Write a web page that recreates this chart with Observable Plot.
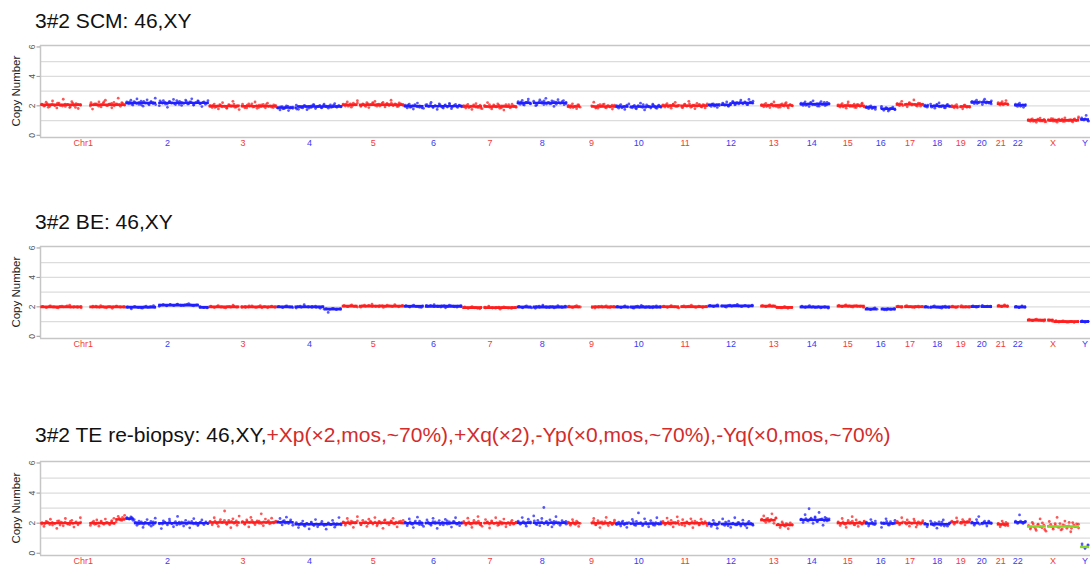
<!DOCTYPE html>
<html><head><meta charset="utf-8">
<script src="https://cdn.jsdelivr.net/npm/d3@7"></script>
<script src="https://cdn.jsdelivr.net/npm/@observablehq/plot@0.6"></script>
<style>
body{margin:0;background:#fff;font-family:"Liberation Sans",Arial,sans-serif;}
#wrap{position:relative;width:1090px;height:569px;overflow:hidden;background:#fff;}
.title{position:absolute;left:35px;font-size:21px;line-height:20px;white-space:nowrap;color:#111;}
.title .ab{color:#d42b2b;}
.panel{position:absolute;left:0;}
</style></head><body><div id="wrap"></div>
<script>
// ---------- genome structure ----------
const chrNames = ["1","2","3","4","5","6","7","8","9","10","11","12","13","14","15","16","17","18","19","20","21","22","X","Y"];
const chrLabels = ["Chr1","2","3","4","5","6","7","8","9","10","11","12","13","14","15","16","17","18","19","20","21","22","X","Y"];
const chrLengths = [249.3,243.2,198.0,191.2,180.9,171.1,159.1,146.4,141.2,135.5,135.0,133.9,115.2,107.3,102.5,90.4,81.2,78.1,59.1,63.0,48.1,51.3,155.3,59.4];
// covered (mappable) regions per chromosome, Mb
const chrRegions = [
  [[0.8,121],[144,249]],[[0,90],[96,243]],[[0,90],[94,198]],[[0,49],[53,191]],
  [[0,46],[50,181]],[[0,58],[62,171]],[[0,58],[62,159]],[[0,43],[47,146]],
  [[0,39],[71,141]],[[0,39],[43,135.5]],[[0,51],[55,135]],[[0,34],[38,133.8]],
  [[19.5,115]],[[19.5,107]],[[20.5,102.4]],[[0,35],[46.5,90.3]],
  [[0,22],[25,81]],[[0,15],[19,78]],[[0,24],[28,59]],[[0,26],[30,63]],
  [[14,48]],[[16.5,51.2]],[[2.7,58],[62,155]],[[2.7,28.8]]
];
const yTicks = [0,2,4,6];
const gridLines = [1,2,3,4,5];

// ---------- panel titles ----------
const titles = [
  {main:"3#2 SCM: 46,XY", ab:""},
  {main:"3#2 BE: 46,XY", ab:""},
  {main:"3#2 TE re-biopsy: 46,XY,", ab:"+Xp(×2,mos,~70%),+Xq(×2),-Yp(×0,mos,~70%),-Yq(×0,mos,~70%)"}
];

// ---------- bin copy numbers (x100), one string per chromosome, bins in genome order ----------
// two interleaved bin sets per sample (A: wider scatter, B: core)
const scmPoints = [
"212 198 225 190 207 233 201 186 219 204 245 196 210 188 228 203 215 182 208 199 178 214 206 226 193 219 238 201 212 187 223 209 252 197 216 205",
"226 214 238 205 221 247 210 232 198 219 241 207 228 215 252 201 224 236 212 190 229 218 244 209 223 231 203 217 239 212 226 248 206 220 233 214 195 227 219 235",
"203 188 212 194 179 205 221 196 184 209 199 231 190 202 175 211 197 186 214 201 192 226 183 204 195 210 187 218 200 191 207 194",
"185 172 194 181 199 168 190 183 205 177 192 186 201 174 196 189 208 182 195 203 187 211 198 184 206 193 215 190 202 197",
"212 199 226 204 191 218 207 235 196 213 202 221 188 209 216 230 198 211 205 224 193 217 209 238 201 214 195 220 208 203",
"205 186 211 193 178 202 219 190 197 183 208 195 224 188 201 176 213 196 185 206 192 217 181 199 210 189 203 194",
"201 185 210 192 176 199 215 188 204 181 197 222 190 179 206 194 213 183 200 171 208 195 187 211 198 190",
"228 211 237 205 224 246 215 232 201 219 240 226 209 251 221 213 234 196 225 242 217 229 208 223",
"203 188 214 195 181 206 199 225 190 184 208 197 212 186 201 193 178 205",
"201 184 209 192 176 198 213 187 203 180 195 218 189 172 206 194 185 211 197 183 204 190",
"207 192 215 199 184 210 224 196 203 188 212 198 231 190 205 181 217 202 194 209 186 213",
"205 196 214 201 189 210 219 204 226 198 215 231 207 222 213 239 218 227 209 244 221 232",
"209 194 217 201 188 212 226 197 205 191 214 199 221 186 208 200",
"218 203 226 209 195 221 234 207 215 198 229 211 202 224 213",
"207 192 215 199 184 226 203 196 211 188 209 197 218 193",
"194 181 200 186 176 197 170 188 165 182 192 174",
"216 201 231 207 194 222 213 240 203 219 198 212",
"205 191 212 197 184 208 220 194 201 187 210 196",
"201 187 209 193 180 204 196 190",
"231 215 238 222 209 245 226 218 233",
"221 205 228 212 236 209",
"211 196 218 203 190 209",
"106 95 111 99 88 104 117 97 108 92 101 113 96 105 89 110 100 94 119 103 98 107 91 112 102 125",
"118 104 135 96"
];
const scmPointsB = [
"209 201 214 196 211 205 218 203 199 212 207 194 216 189 210 204 221 207 213 198 209 226 203 211 217 200 214 208 222 206",
"218 225 211 229 216 222 207 231 219 213 227 221 209 234 217 224 212 228 220 215 236 210 223 219 230 214 226 205 221 232 216 224 211 219",
"196 203 189 200 208 193 198 185 205 199 211 192 202 196 187 204 199 214 194 201 190 206 197 209 195 200 188 203",
"186 193 180 189 197 184 191 178 195 188 201 193 184 199 206 192 197 187 203 194 198 190 205 196 200 193",
"205 211 198 214 203 208 219 201 209 196 213 206 222 204 210 199 216 207 212 202 218 205 209 197 214 208",
"197 204 190 201 209 194 199 186 206 198 212 193 200 195 207 189 203 197 210 192 201 196 205 199",
"194 201 188 198 206 191 197 184 203 195 209 190 199 193 205 187 200 196 208 192 198 194",
"217 225 209 222 230 214 220 206 227 218 233 212 221 216 228 211 224 219 236 215",
"194 201 188 198 206 191 197 185 203 195 208 190 199 193 205 196",
"193 200 187 197 205 190 196 183 202 194 208 189 198 192 204 186 199 195",
"199 206 193 203 211 196 202 189 208 200 214 195 204 198 210 192 205 201",
"204 211 198 208 202 213 207 199 216 223 210 219 227 214 221 208 225 218",
"201 208 195 205 212 198 203 190 209 202 215 197 206 200",
"210 217 204 214 221 207 212 199 218 211 224 206 215",
"199 206 193 203 210 196 202 189 208 200 213 197",
"188 195 182 192 186 178 185 172 182 176",
"208 215 202 212 219 205 210 198 216 207",
"197 204 191 201 208 194 199 187 205 198",
"193 200 187 197 204 190 196",
"222 229 216 226 233 219 224 213",
"212 219 206 216 210",
"203 210 197 207 201",
"100 106 95 103 110 97 101 92 107 99 112 96 104 98 109 94 102 105 97 108 100 114",
"106 112 101"
];
const bePoints = [
"203 196 207 199 193 205 201 211 197 202 194 204 199 208 196 202 190 205 200 198",
"198 186 202 195 191 204 199 208 204 213 207 216 210 219 208 214 221 209 212 201 196 193",
"204 197 208 199 193 203 211 198 202 195 206 200 196 209 201 194 203 199",
"201 195 206 198 192 204 215 199 203 196 190 184 162 188 182 186",
"209 201 213 204 198 211 207 218 203 209 196 212 205 215 200 208",
"208 199 212 203 196 210 206 215 201 207 194 211 204 198 209",
"199 190 202 194 187 198 205 192 196 184 200 193 189 197",
"203 194 207 198 190 205 212 196 201 193 208 199 204",
"204 196 209 199 192 203 198 207 195 201",
"203 195 207 198 191 204 210 196 201 194 206 199",
"205 197 209 200 193 207 203 212 198 204 195 202",
"210 202 214 205 198 212 208 216 203 209 200 211",
"209 202 213 206 198 194 201 190 197",
"205 199 209 201 197 193 199 191",
"210 202 214 206 199 208 203 196",
"190 183 193 186 179 184 188",
"205 198 209 202 195 204 200",
"203 195 207 198 191 205 197",
"204 197 208 199 201",
"206 199 210 201 204",
"210 201 213 204",
"203 195 207 200",
"113 106 117 109 104 111 102 107 99 104 96 101 94 99",
"104 96 101"
];
const bePointsB = [
"202 197 204 199 195 203 200 206 198 201 196 203 199 205 197 201 194 202 200 204 198 201",
"199 195 201 197 193 200 196 202 198 211 215 208 214 210 217 212 209 216 213 207 214 199 195 197",
"201 197 204 199 195 202 198 205 200 196 203 199 206 197 201 194 202 200 204 198",
"202 198 204 199 195 201 197 203 200 196 204 198 201 187 183 189 184 186",
"206 201 208 203 199 207 204 210 202 205 200 209 203 207 201 206 204 208",
"205 200 207 202 198 206 203 209 201 204 199 208 202 206 200 205 203",
"196 192 198 194 190 197 193 199 195 191 198 194 196 192 197 195",
"200 196 202 198 194 201 197 203 199 195 202 198 200 196 201",
"201 197 203 199 195 202 198 204 200 196 202 199",
"200 196 202 198 194 201 197 203 199 195 201 198 200",
"202 198 204 200 196 203 199 205 201 197 203 200 202",
"207 203 209 205 201 208 204 210 206 202 208 205 207",
"206 202 208 204 201 197 193 199 195 197",
"200 196 202 198 195 201 197 199 196",
"206 202 208 204 200 207 203 205 201",
"186 182 188 184 180 187 183 185",
"202 198 204 200 197 203 199 201",
"200 196 202 198 195 201 197 199",
"201 197 203 199 202 198",
"203 199 205 201 204 200",
"206 202 208 204",
"200 196 202 198",
"111 107 113 109 106 112 108 110 101 97 103 99 96 102 98 100",
"101 98 102"
];
const tePoints = [
"194 178 211 203 226 187 199 165 215 206 182 231 197 190 219 174 208 201 236 185 205 192 221 180 214 198 227 203 189 216 232 208 245 221 238 252",
"236 228 241 219 207 186 213 198 172 205 224 191 180 209 233 196 164 215 202 188 227 199 176 210 245 193 206 181 218 200 169 212 230 195 184 204 221 190 208 197",
"212 189 236 201 178 224 207 281 195 218 170 229 204 186 247 210 193 221 175 238 206 190 215 199 262 183 227 208 196 233 201 214",
"209 231 188 216 240 197 222 186 203 171 195 214 180 199 162 207 189 224 176 193 211 184 160 202 190 218 173 196 237 188",
"208 186 231 197 214 172 205 243 190 219 201 178 226 209 194 237 182 211 198 166 221 204 189 215 232 196 175 210 200 218",
"206 183 228 195 171 214 240 190 203 178 221 197 186 232 209 165 217 199 188 225 193 208 174 212 236 196 183 204",
"211 187 233 196 172 218 205 244 191 179 224 208 168 215 199 236 185 210 194 227 176 203 189 219 198 206",
"214 192 237 201 180 226 209 248 195 218 183 231 304 204 189 222 175 211 243 198 186 216 205 193",
"207 186 224 195 213 178 202 231 190 216 171 209 197 238 184 205 193 220",
"190 207 181 214 196 172 203 225 188 211 268 199 183 229 194 176 217 201 186 236 192 208",
"211 189 234 196 218 175 205 242 191 223 182 209 197 229 170 214 201 187 226 195 210 183",
"201 178 219 190 166 207 228 185 196 213 172 199 236 188 204 181 220 193 169 211 198 186",
"226 248 205 231 214 262 199 235 192 171 208 184 196 163 201 187",
"227 204 256 218 296 233 198 241 212 271 225 186 238 215 229",
"209 184 231 196 172 218 205 243 190 221 178 206 194 214",
"206 181 224 193 214 172 201 229 187 210 196 219",
"212 189 236 205 221 180 198 227 174 209 193 216",
"198 176 214 189 203 167 209 185 221 192 180 201",
"214 192 235 201 223 188 211 227",
"207 186 224 244 195 213 181 209 198",
"199 176 214 188 205 183",
"213 198 255 207 201 210",
"182 161 205 174 152 193 228 169 186 147 211 178 160 197 238 172 155 189 214 166 181 143 204 176 195 168",
"62 38 51"
];
const tePointsB = [
"203 196 209 191 205 199 214 187 201 207 194 211 198 204 189 206 200 213 195 202 208 192 205 199 210 197 224 231 218 228",
"233 227 236 224 203 196 208 192 201 197 211 189 205 199 194 207 200 213 196 202 188 206 198 204 193 209 200 195 203 191 206 199 202 197",
"208 201 213 196 210 204 219 192 206 211 199 215 203 208 194 211 205 218 200 207 213 197 209 203 216 201 206 210",
"209 203 214 200 207 211 205 195 189 199 186 197 192 201 184 195 190 198 193 188 196 191 200 187 194 197",
"205 198 210 194 207 201 215 189 203 208 196 212 200 206 192 209 203 217 198 204 211 195 207 201 213 199",
"203 196 208 192 205 199 213 188 201 206 194 210 198 204 190 207 201 215 196 202 209 193 205 199",
"203 196 208 192 205 199 213 188 201 206 194 210 198 204 190 207 201 196 202 209 193 205",
"205 198 210 194 207 201 215 190 203 208 196 212 200 206 192 209 203 198 204 211",
"203 196 208 192 205 199 212 188 201 206 194 210 198 204 191 207",
"200 193 205 189 202 196 210 185 198 203 191 207 195 201 187 204 198 193",
"203 196 208 192 205 199 213 188 201 206 194 210 198 204 190 207 201 196",
"197 190 202 186 199 193 207 182 195 200 188 204 192 198 184 201 195 190",
"223 216 228 212 225 219 233 191 184 196 180 193 187 190",
"225 218 230 214 227 221 236 210 223 228 216 232 220",
"203 196 208 192 205 199 213 188 201 206 194 210",
"201 194 206 190 203 197 211 187 199 204",
"204 197 209 193 206 200 214 189 202 207",
"196 189 201 185 198 192 206 181 194 199",
"209 202 214 198 211 205 219",
"203 196 208 192 205 199 213 201",
"195 188 200 184 197",
"209 202 214 198 211",
"184 171 195 163 188 176 201 158 180 192 169 186 174 197 161 183 178 205 166 189 175 193",
"45 31 56"
];

// ---------- segment copy numbers: [chr, startMb, endMb, value] ----------
const scmSegments = [
  ["1",0,249,2.07],["2",0,243,2.2],["3",0,198,1.98],["4",0,60,1.88],["4",60,191,1.96],["5",0,181,2.07],
  ["6",0,171,1.98],["7",0,159,1.96],["8",0,146,2.2],["9",0,141,1.96],["10",0,136,1.95],["11",0,135,2.01],
  ["12",0,70,2.07],["12",70,134,2.2],["13",0,115,2.03],["14",0,107,2.12],["15",0,103,2.01],["16",0,40,1.9],
  ["16",40,91,1.8],["17",0,81,2.1],["18",0,78,1.99],["19",0,59,1.95],["20",0,63,2.24],["21",0,48,2.14],
  ["22",0,52,2.05],["X",0,156,1.02],["Y",0,59,1.08]
];
const beSegments = [
  ["1",0,249,2.0],["2",0,95,1.98],["2",95,215,2.12],["2",215,243,1.97],["3",0,198,2.0],["4",0,140,2.0],
  ["4",140,191,1.85],["5",0,181,2.05],["6",0,171,2.04],["7",0,159,1.95],["8",0,146,1.99],["9",0,141,2.0],
  ["10",0,136,1.99],["11",0,135,2.01],["12",0,134,2.06],["13",0,65,2.05],["13",65,115,1.96],["14",0,107,1.99],
  ["15",0,103,2.05],["16",0,91,1.85],["17",0,81,2.01],["18",0,78,1.99],["19",0,59,2.0],["20",0,63,2.02],
  ["21",0,48,2.05],["22",0,52,1.99],["X",0,80,1.1],["X",80,156,1.0],["Y",0,59,1.0]
];
const teSegments = [
  ["1",0,220,2.0],["1",220,249,2.25],["2",0,25,2.3],["2",25,243,2.0],["3",0,198,2.05],["4",0,50,2.06],
  ["4",50,191,1.93],["5",0,181,2.02],["6",0,171,2.0],["7",0,159,2.0],["8",0,146,2.02],["9",0,141,2.0],
  ["10",0,136,1.97],["11",0,135,2.0],["12",0,134,1.94],["13",0,65,2.2],["13",65,115,1.88],["14",0,107,2.22],
  ["15",0,103,2.0],["16",0,91,1.98],["17",0,81,2.01],["18",0,78,1.93],["19",0,59,2.06],["20",0,63,2.0],
  ["21",0,48,1.92],["22",0,52,2.06]
];
const teAbnormal = [["X",0,156,1.78],["Y",0,59,0.42]];

// ---------- helpers ----------
const RED = "#ff1f1f", BLUE = "#2020ff", GREEN = "#86d62a";
const RED_T = "#f23a3a", BLUE_T = "#3b3bf0";
const chrStart = [];
chrLengths.reduce((acc, l, i) => { chrStart[i] = acc; return acc + l; }, 0);
const chrColor = i => (i % 2 === 0 ? RED : BLUE);

function buildPoints(strs) {
  const out = [];
  strs.forEach((s, ci) => {
    const vals = s.trim().split(/\s+/).map(v => +v / 100);
    const regs = chrRegions[ci];
    const L = d3.sum(regs, r => r[1] - r[0]);
    vals.forEach((v, i) => {
      let off = (i + 0.5) / vals.length * L, pos = regs[regs.length - 1][1];
      for (const [a, b] of regs) { if (off <= b - a) { pos = a + off; break; } off -= b - a; }
      out.push({x: chrStart[ci] + pos, y: v, c: chrColor(ci)});
    });
  });
  return out;
}
function buildSegs(segs, color) {
  const out = [];
  for (const [name, s, e, v] of segs) {
    const ci = chrNames.indexOf(name);
    for (const [a, b] of chrRegions[ci]) {
      const x1 = Math.max(a, s), x2 = Math.min(b, e);
      if (x2 > x1) out.push({x1: chrStart[ci] + x1, x2: chrStart[ci] + x2, y: v, c: color || chrColor(ci)});
    }
  }
  return out;
}
const labelData = chrLabels.map((t, i) => {
  const regs = chrRegions[i];
  const mid = chrNames[i] === "Y" ? (regs[0][0] + regs[regs.length - 1][1]) / 2 : chrLengths[i] / 2;
  return {x: chrStart[i] + mid, label: t, c: i % 2 === 0 ? RED_T : BLUE_T};
});

function panel(points, segs, abn, frameH, segW) {
  const mt = 10, mb = 18;
  return Plot.plot({
    width: 1090, height: mt + frameH + mb,
    marginLeft: 40, marginRight: 0, marginTop: mt, marginBottom: mb,
    x: {domain: [0, 3068], axis: null},
    y: {domain: [-0.15, 6.1], axis: null},
    color: {type: "identity"},
    style: {background: "transparent", fontFamily: "'Liberation Sans', Arial, sans-serif", overflow: "visible"},
    marks: [
      Plot.ruleY(gridLines, {stroke: "#dcdcdc", strokeWidth: 1.3}),
      Plot.ruleY([6.1, -0.15], {stroke: "#c6c6c6", strokeWidth: 1.5}),
      Plot.ruleX([0], {stroke: "#c6c6c6", strokeWidth: 1.5}),
      Plot.axisY({ticks: yTicks, tickSize: 3.5, tickFormat: () => "", stroke: "#999", label: null}),
      Plot.text(yTicks, {y: d => d, text: d => String(d), frameAnchor: "left", dx: -8.5, rotate: -90,
        fontSize: 8.5, fill: "#555", textAnchor: "middle", lineAnchor: "middle"}),
      Plot.text(["Copy Number"], {y: () => 3, text: d => d, frameAnchor: "left", dx: -24, rotate: -90,
        fontSize: 11.5, fill: "#222", textAnchor: "middle", lineAnchor: "middle"}),
      Plot.ruleY(segs, {x1: "x1", x2: "x2", y: "y", stroke: "c", strokeWidth: segW}),
      Plot.dot(points, {x: "x", y: "y", r: 1.4, fill: "c", fillOpacity: 0.75, stroke: null}),
      Plot.ruleY(abn, {x1: "x1", x2: "x2", y: "y", stroke: "c", strokeWidth: 2.5}),
      Plot.text(labelData, {x: "x", y: () => -0.15, text: "label", fill: "c", dy: 6, fontSize: 9,
        lineAnchor: "middle"})
    ]
  });
}

const wrap = document.getElementById("wrap");
const layout = [
  {titleTop: 11, svgTop: 35, frameH: 92, pts: [scmPoints, scmPointsB], segs: scmSegments, abn: [], segW: 2.4},
  {titleTop: 212, svgTop: 236, frameH: 92, pts: [bePoints, bePointsB], segs: beSegments, abn: [], segW: 2.8},
  {titleTop: 425, svgTop: 451, frameH: 94, pts: [tePoints, tePointsB], segs: teSegments, abn: teAbnormal, segW: 2.4}
];
layout.forEach((L, k) => {
  const t = document.createElement("div");
  t.className = "title";
  t.style.top = L.titleTop + "px";
  t.textContent = titles[k].main;
  if (titles[k].ab) {
    const s = document.createElement("span");
    s.className = "ab"; s.textContent = titles[k].ab; t.appendChild(s);
  }
  wrap.appendChild(t);
  const pts = L.pts.flatMap(buildPoints);
  const svg = panel(pts, buildSegs(L.segs), buildSegs(L.abn, GREEN), L.frameH, L.segW);
  svg.classList.add("panel");
  svg.style.top = L.svgTop + "px";
  wrap.appendChild(svg);
});
</script></body></html>
